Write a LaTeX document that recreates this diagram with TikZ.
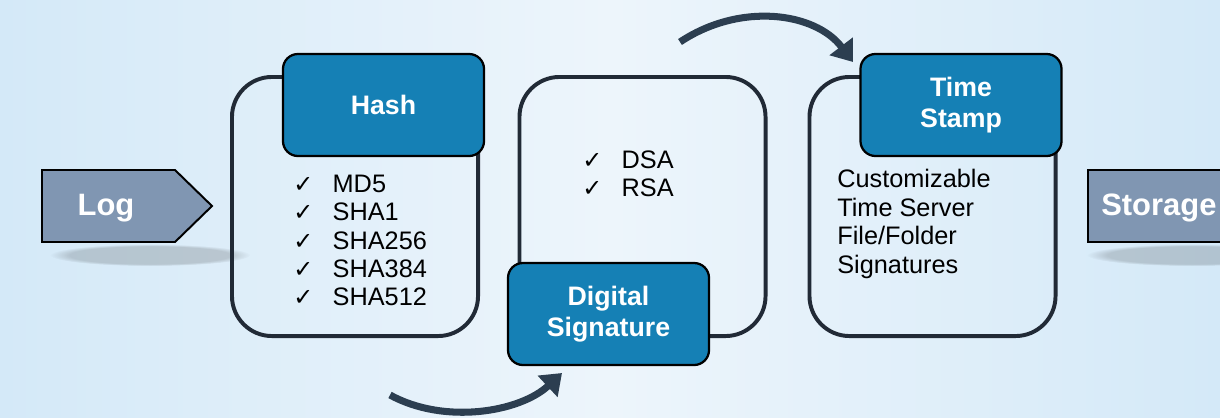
\documentclass[tikz,border=0pt]{standalone}
\usepackage{fontspec}
\setmainfont{Liberation Sans}
\newfontfamily\symfont{DejaVu Sans}
\usetikzlibrary{arrows.meta,fadings}

\definecolor{bgedge}{RGB}{212,233,248}
\definecolor{bgmid}{RGB}{237,245,251}
\definecolor{hdrblue}{RGB}{21,128,181}
\definecolor{tagblue}{RGB}{128,150,178}
\definecolor{panelline}{RGB}{33,42,54}
\definecolor{arrowdark}{RGB}{44,62,80}

\newcommand{\chk}{\makebox[28pt][l]{\symfont\fontsize{17}{17}\selectfont ✓}}

\begin{document}
\begin{tikzpicture}[x=0.025cm,y=-0.025cm,
    panel/.style={draw=panelline, line width=2.8pt, rounded corners=1cm,
      minimum width=6.15cm, minimum height=6.475cm},
    header/.style={draw=black, line width=1.6pt, fill=hdrblue, rounded corners=0.375cm,
      minimum width=5.025cm, minimum height=2.55cm, text=white, align=center,
      font=\bfseries\fontsize{19}{22.5}\selectfont},
    listtext/.style={anchor=west, align=left, inner sep=0pt,
      font=\fontsize{18}{20}\selectfont},
    tagshape/.style={fill=tagblue, draw=black, line width=1.4pt},
    tagtext/.style={text=white, inner sep=0pt, font=\bfseries\fontsize{22}{26}\selectfont},
    softshadow/.style={fill=black, opacity=0.16, path fading=circle with fuzzy edge 20 percent},
    flow/.style={draw=arrowdark, line width=5pt, -{Triangle[width=20pt,length=14pt]}}]

    % Background
    \useasboundingbox (0,0) rectangle (1220,417);
    \shade[left color=bgedge, right color=bgedge, middle color=bgmid] (0,0) rectangle (1220,417);

    % Input and output tags
    \fill[softshadow] (150,255) ellipse [x radius=100, y radius=11];
    \draw[tagshape] (42,170) -- (175,170) -- (212,206) -- (175,242) -- (42,242) -- cycle;
    \node[tagtext] (log) at (106,208) {Log};

    \fill[softshadow] (1192,255) ellipse [x radius=105, y radius=11];
    \draw[tagshape] (1088,170) rectangle (1260,242);
    \node[tagtext, anchor=west] (storage) at (1101,208) {Storage};

    % Panels
    \node[panel] (hashpanel) at (355,206.5) {};
    \node[panel] (sigpanel) at (642.5,206.5) {};
    \node[panel] (timepanel) at (932.5,206.5) {};

    % Headers on top of the panels
    \node[header] (hash) at (383.5,105) {Hash};
    \node[header] (sig) at (608.5,314) {Digital\\Signature};
    \node[header] (time) at (961,105) {Time\\Stamp};

    % Panel contents
    \node[listtext] (hashlist) at (293,240.5)
      {\chk MD5\\ \chk SHA1\\ \chk SHA256\\ \chk SHA384\\ \chk SHA512};
    \node[listtext] (siglist) at (582,173.5) {\chk DSA\\ \chk RSA};
    \node[listtext, font=\fontsize{18}{20.4}\selectfont] (timelist) at (837,224)
      {Customizable\\ Time Server\\ File/Folder\\ Signatures};

    % Curved arrows between the steps
    \coordinate (hashout) at (390,395);
    \coordinate (sigin) at (562,373);
    \coordinate (sigout) at (680,42);
    \coordinate (timein) at (853,62);
    \draw[flow] (hashout) .. controls (445,425) and (520,412) .. (sigin);
    \draw[flow] (sigout) .. controls (740,2) and (815,12) .. (timein);
\end{tikzpicture}
\end{document}
